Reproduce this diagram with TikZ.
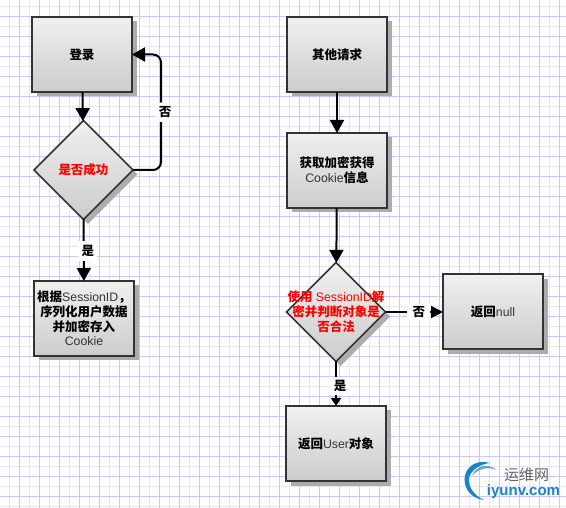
\documentclass[tikz,border=0pt]{standalone}
\usepackage{fontspec}
\setmainfont{Liberation Sans}
\newfontfamily\cjk{Noto Sans CJK SC}
\usetikzlibrary{arrows.meta, positioning, shapes.geometric, shadows}
\definecolor{gridminor}{RGB}{230,230,248}
\definecolor{gridmajor}{RGB}{200,200,255}
\definecolor{boxline}{RGB}{51,51,51}
\definecolor{boxtop}{RGB}{240,240,240}
\definecolor{boxbottom}{RGB}{204,204,204}
\definecolor{shadowgray}{RGB}{172,172,172}
\definecolor{logoblue}{RGB}{28,130,200}
\definecolor{logogray}{RGB}{100,100,100}
\newcommand{\zh}[1]{{\cjk\bfseries\fontsize{12.5}{14.8}\selectfont #1}}
\newcommand{\en}[1]{{\color{boxline}#1}}

\begin{document}
\begin{tikzpicture}[
    x=1pt, y=-1pt,
    flatshadow/.style={drop shadow={shadow xshift=4.5pt, shadow yshift=-4.5pt, fill=shadowgray, opacity=1}},
    block/.style={rectangle, draw=boxline, line width=2pt, top color=boxtop, bottom color=boxbottom,
                  flatshadow, minimum width=100pt, minimum height=75pt, inner sep=0pt, outer sep=0pt,
                  align=center, font=\fontsize{12.3}{14.8}\selectfont},
    decision/.style={diamond, aspect=1, draw=boxline, line width=1.5pt, top color=boxtop, bottom color=boxbottom,
                  flatshadow, minimum width=99pt, minimum height=99pt, inner sep=0pt, outer sep=0pt},
    redtext/.style={text=red, align=center, inner sep=0pt, font=\fontsize{12.3}{14.8}\selectfont},
    arrow/.style={-{Triangle[length=13pt, width=14pt]}, line width=2pt},
    smallarrow/.style={-{Triangle[length=8pt, width=10pt]}, line width=2pt},
    edgelabel/.style={fill=white, inner sep=0pt, minimum width=19pt, minimum height=20pt}
]
    % paper grid
    \useasboundingbox (0,0) rectangle (566,508);
    \fill[white] (0,0) rectangle (566,508);
    \foreach \x in {9.5,29.5,...,559.5} \draw[gridminor, line width=1pt] (\x,0) -- (\x,508);
    \foreach \y in {6.5,26.5,...,506.5} \draw[gridminor, line width=1pt] (0,\y) -- (566,\y);
    \foreach \x in {19.5,39.5,...,559.5} \draw[gridmajor, line width=1pt] (\x,0) -- (\x,508);
    \foreach \y in {16.5,36.5,...,496.5} \draw[gridmajor, line width=1pt] (0,\y) -- (566,\y);

    % left flow
    \node[block] (login) at (82,54.5) {\zh{登录}};
    \node[decision, below=28.5pt of login, xshift=1.5pt,
          label={[redtext]center:\zh{是否成功}}] (check) {};
    \node[block, below=61.5pt of check, xshift=.5pt] (store)
        {\zh{根据}\en{SessionID}\zh{，}\\\zh{序列化用户数据}\\\zh{并加密存入}\\\en{Cookie}};
    \coordinate[right=28pt of check.east] (turn);
    \draw[arrow] (login) -- (check);
    \draw[arrow, rounded corners=8pt] (check.east) -- (turn) |- (login.east)
        node[edgelabel, pos=.25, xshift=2pt, minimum width=17pt] (nolabel) {\hspace{4pt}\zh{否}};
    \draw[arrow] (check) -- node[edgelabel, pos=.52, xshift=4pt] (yeslabel) {\zh{是}} (store);

    % right flow
    \node[block] (request) at (337,54.5) {\zh{其他请求}};
    \node[block, below=41pt of request] (parse) {\zh{获取加密获得}\\\en{Cookie}\zh{信息}};
    \node[decision, below=54.5pt of parse, xshift=-1pt,
          label={[redtext]center:\zh{使用} SessionID\zh{解}\\\zh{密并判断对象是}\\\zh{否合法}}] (verify) {};
    \node[block, right=57.5pt of verify] (nullbox) {\zh{返回}\en{null}};
    \node[block, below=44.5pt of verify] (userbox) {\zh{返回}\en{User}\zh{对象}};
    \draw[arrow] (request) -- (parse);
    \draw[arrow] (parse) -- (verify);
    \draw[smallarrow, -{Triangle[length=12pt, width=12pt]}] (verify) --
        node[edgelabel, pos=.58, minimum width=23pt, minimum height=16pt] (nolabeltwo) {\zh{否}} (nullbox);
    \draw[smallarrow] (verify) --
        node[edgelabel, pos=.55, xshift=4pt, minimum width=22pt, minimum height=18pt] (yeslabeltwo) {\zh{是}} (userbox);

    % logo
    \fill[logoblue] (490,463) .. controls (472,458) and (462,472) .. (465,484)
        .. controls (467,493) and (475,499) .. (484,500)
        .. controls (475,496) and (468,488) .. (469,478)
        .. controls (471,470) and (480,464) .. (490,463);
    \fill[logoblue!70] (497,470) .. controls (486,462) and (476,466) .. (472,476)
        .. controls (478,469) and (487,466) .. (497,470);
    \node[inner sep=0pt, text=logogray, font=\cjk\fontsize{15}{15}\selectfont] (logoname) at (526.5,474.5) {运维网};
    \node[inner sep=0pt, text=logoblue, font=\bfseries\fontsize{15}{15}\selectfont] (logourl) at (523.5,492) {iyunv.com};
\end{tikzpicture}
\end{document}
